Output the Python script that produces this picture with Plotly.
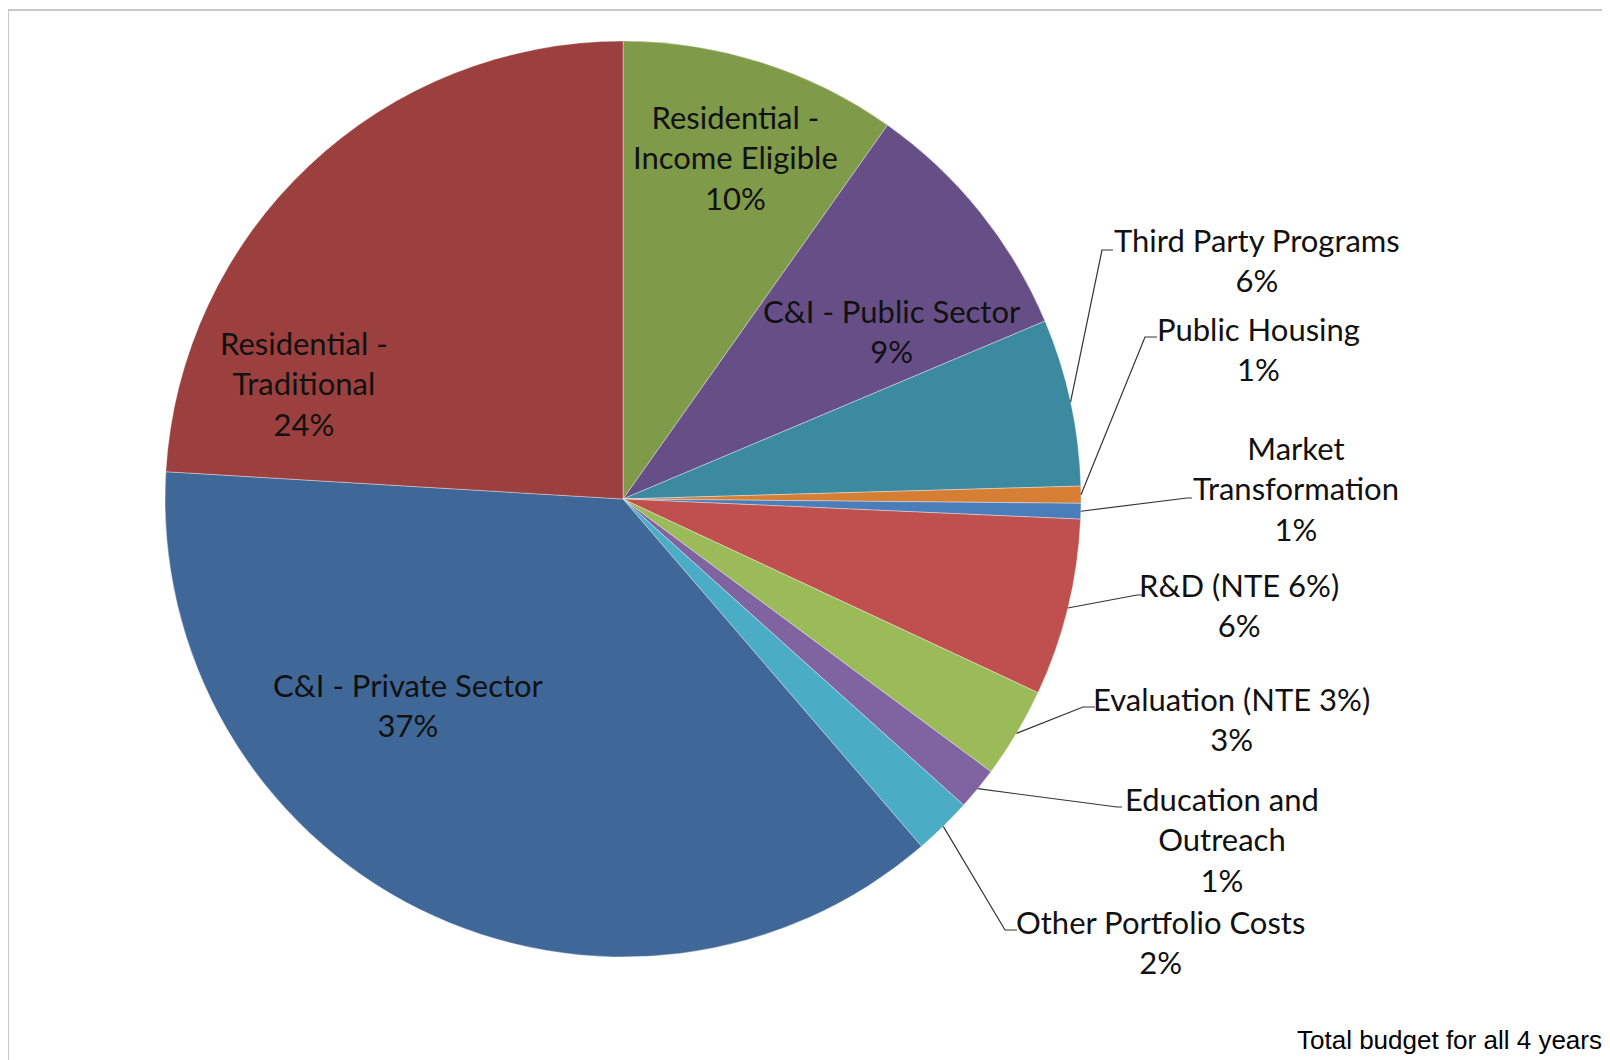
import math
import plotly.graph_objects as go

W, H = 1610, 1060
OFF = 8  # page body margin the figure is drawn at

labels = [
    "Residential - Income Eligible",
    "C&I - Public Sector",
    "Third Party Programs",
    "Public Housing",
    "Market Transformation",
    "R&D (NTE 6%)",
    "Evaluation (NTE 3%)",
    "Education and Outreach",
    "Other Portfolio Costs",
    "C&I - Private Sector",
    "Residential - Traditional",
]
values = [9.8, 8.85, 5.9, 0.6, 0.55, 6.25, 3.2, 1.5, 2.05, 37.25, 24.05]
pct_labels = ["10%", "9%", "6%", "1%", "1%", "6%", "3%", "1%", "2%", "37%", "24%"]
label_text = [
    "Residential -<br>Income Eligible",
    "C&I - Public Sector",
    "Third Party Programs",
    "Public Housing",
    "Market<br>Transformation",
    "R&D (NTE 6%)",
    "Evaluation (NTE 3%)",
    "Education and<br>Outreach",
    "Other Portfolio Costs",
    "C&I - Private Sector",
    "Residential -<br>Traditional",
]
colors = [
    "#7F9A48", "#664F86", "#3B8AA0", "#D57E34", "#4A7EBB", "#C0504D",
    "#9BBB59", "#8064A2", "#4BACC6", "#3F6899", "#9B403E",
]

# pie geometry in page pixels
CX, CY, R = 623, 499, 458

# label centre (px) and, for outside labels, leader elbow + end (px)
label_pos = {
    0: (735, 158), 1: (892, 331), 9: (408, 705), 10: (304, 383),
    2: (1257, 260), 3: (1258, 349), 4: (1296, 489), 5: (1239, 605),
    6: (1231, 719), 7: (1222, 839), 8: (1160, 942),
}
leaders = {
    2: [(1102, 250), (1113, 250)],
    3: [(1145, 337), (1157, 337)],
    4: [(1187, 498), (1192, 498)],
    5: [(1137, 595), (1143, 595)],
    6: [(1083, 707), (1095, 707)],
    7: [(1117, 807), (1122, 807)],
    8: [(1005, 930), (1017, 930)],
}


def px(x):
    return (x - OFF) / W


def py(y):
    return 1 - (y - OFF) / H


fig = go.Figure(
    go.Pie(
        labels=labels,
        values=values,
        sort=False,
        direction="clockwise",
        rotation=0,
        marker=dict(colors=colors, line=dict(color="rgba(255,255,255,0.45)", width=0.8)),
        textinfo="none",
        hoverinfo="skip",
        showlegend=False,
        domain=dict(x=[px(CX - R), px(CX + R)], y=[py(CY + R), py(CY - R)]),
    )
)

annotations = []
shapes = []
total = sum(values)
cum = 0
for i, v in enumerate(values):
    mid = (cum + v / 2) / total * 2 * math.pi
    cum += v
    lx, ly = label_pos[i]
    annotations.append(
        dict(
            x=px(lx), y=py(ly), xref="paper", yref="paper",
            text=f"{label_text[i]}<br>{pct_labels[i]}",
            showarrow=False, xanchor="center", yanchor="middle",
            font=dict(family="Lato", size=31, color="#111111"),
        )
    )
    if i in leaders:
        sx = CX + R * math.sin(mid)
        sy = CY - R * math.cos(mid)
        (ex, ey), (fx, fy) = leaders[i]
        shapes.append(
            dict(
                type="path", xref="paper", yref="paper",
                path=f"M {px(sx)},{py(sy)} L {px(ex)},{py(ey)} L {px(fx)},{py(fy)}",
                line=dict(color="#333333", width=1.2),
            )
        )

annotations.append(
    dict(
        x=px(1604), y=py(1040), xref="paper", yref="paper",
        text="Total budget for all 4 years", showarrow=False,
        xanchor="right", yanchor="middle",
        font=dict(family="Liberation Sans, Arial", size=26, color="#000000"),
    )
)

# chart border
shapes.append(
    dict(
        type="rect", xref="paper", yref="paper",
        x0=px(8), x1=1.05, y0=-0.05, y1=py(10),
        line=dict(color="#C8C8C8", width=2),
    )
)

fig.update_layout(
    width=W,
    height=H,
    margin=dict(l=0, r=0, t=0, b=0),
    paper_bgcolor="white",
    plot_bgcolor="white",
    annotations=annotations,
    shapes=shapes,
)

fig.write_html("out.html")
